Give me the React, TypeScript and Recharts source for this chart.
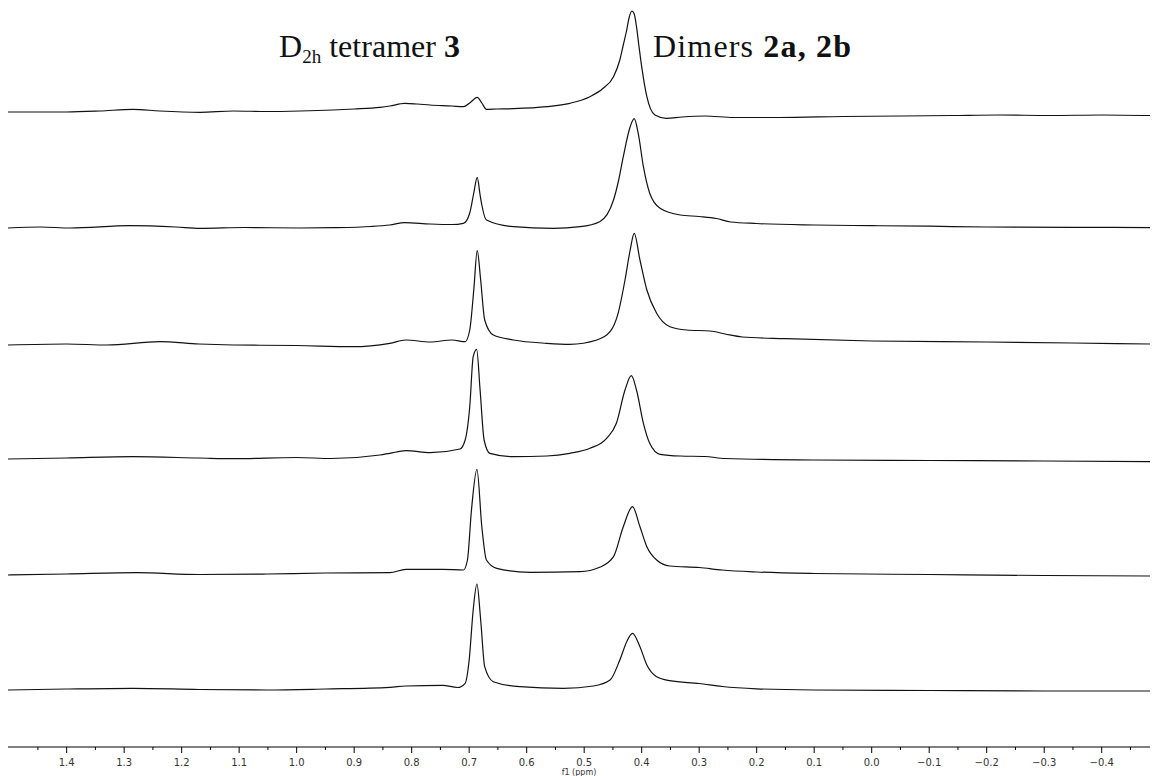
import { LineChart, Line, XAxis, YAxis } from 'recharts';

// ppm, intensity (relative to each trace's own baseline), top spectrum first
const trace1: [number, number][] = [
  [1.502, 0], [1.4, 0], [1.342, 1], [1.285, 2.7], [1.238, 1], [1.168, -0.3], [1.11, 1],
  [1.052, 0.5], [0.994, 1], [0.937, 2], [0.9, 3], [0.855, 4.7], [0.838, 6], [0.812, 8.7],
  [0.79, 8], [0.768, 7], [0.73, 6], [0.71, 5.3], [0.699, 9], [0.686, 14.7], [0.678, 9],
  [0.67, 2.7], [0.652, 3], [0.623, 3.3], [0.565, 5.3], [0.525, 8.7], [0.49, 15.3],
  [0.467, 23.7], [0.449, 35.3], [0.438, 52], [0.432, 67], [0.426, 82], [0.422, 94],
  [0.417, 101], [0.413, 98], [0.409, 85.3], [0.405, 67], [0.4, 45.3], [0.391, 15.3],
  [0.377, -3], [0.357, -6.3], [0.33, -5], [0.29, -4], [0.24, -5.5], [0.16, -5.5],
  [0.05, -4.5], [-0.05, -4], [-0.14, -3.5], [-0.22, -3], [-0.31, -3.5], [-0.4, -3], [-0.484, -3.5],
];

const trace2: [number, number][] = [
  [1.502, 0], [1.445, 1], [1.394, 0], [1.29, 2.3], [1.21, 1], [1.168, -0.3], [1.09, 0.5],
  [0.994, 0], [0.937, 0.3], [0.87, 1.5], [0.838, 3], [0.812, 5.3], [0.768, 4], [0.73, 3.5],
  [0.71, 4.7], [0.699, 15], [0.692, 35], [0.686, 50.7], [0.681, 33], [0.678, 23], [0.67, 8],
  [0.623, 1.3], [0.554, -0.3], [0.507, 1.3], [0.473, 6.3], [0.449, 28], [0.44, 48],
  [0.432, 71.3], [0.42, 101.3], [0.413, 109.3], [0.406, 94.7], [0.397, 61.3], [0.386, 34.7],
  [0.368, 19.7], [0.333, 13], [0.3, 11.5], [0.27, 9.5], [0.245, 6], [0.2, 4.5], [0.1, 3],
  [0.0, 2.3], [-0.1, 1.8], [-0.2, 1], [-0.35, 0.7], [-0.484, 0.4],
];

const trace3: [number, number][] = [
  [1.502, 0], [1.4, 1], [1.33, 0], [1.238, 3.3], [1.17, 1], [1.11, 0], [1.0, -0.5],
  [0.902, -1.7], [0.838, 1.7], [0.81, 5], [0.768, 3], [0.73, 5], [0.707, 3.3],
  [0.699, 15], [0.692, 55], [0.686, 94.3], [0.68, 65], [0.673, 25], [0.658, 10], [0.623, 5],
  [0.565, 1.7], [0.525, 0.7], [0.478, 5], [0.455, 13.3], [0.441, 31.7], [0.429, 65],
  [0.42, 95], [0.413, 111.7], [0.403, 85], [0.391, 55], [0.374, 31.7], [0.351, 18.3],
  [0.322, 15], [0.281, 14], [0.255, 11], [0.225, 8], [0.15, 6.3], [0.0, 4], [-0.2, 3],
  [-0.35, 2], [-0.484, 1],
];

const trace4: [number, number][] = [
  [1.502, 0], [1.4, 1], [1.285, 2.3], [1.17, 1], [1.11, 0.3], [1.0, 1.5], [0.94, 0.5],
  [0.855, 4], [0.838, 5.7], [0.81, 8.3], [0.768, 6.3], [0.716, 10], [0.707, 19],
  [0.699, 52.3], [0.693, 102.3], [0.687, 109.7], [0.681, 69], [0.674, 19], [0.664, 5.7],
  [0.623, 2.3], [0.565, 3], [0.525, 5.7], [0.49, 10.7], [0.461, 20.7], [0.444, 35.7],
  [0.429, 69], [0.418, 83.3], [0.409, 69], [0.397, 35.7], [0.386, 15.7], [0.368, 4.7],
  [0.333, 3], [0.29, 2.5], [0.255, 0.5], [0.1, -1], [-0.1, -1.5], [-0.3, -2], [-0.484, -2.7],
];

const trace5: [number, number][] = [
  [1.502, 0], [1.4, 1], [1.278, 2.3], [1.17, 0.5], [1.052, 1], [0.95, 2], [0.838, 2.3],
  [0.81, 5.7], [0.746, 5.7], [0.71, 5], [0.703, 15], [0.696, 65], [0.6865, 105.7],
  [0.678, 48.3], [0.67, 15], [0.652, 6.7], [0.594, 2.7], [0.507, 3.3], [0.473, 7.7],
  [0.449, 18.3], [0.432, 48.3], [0.416, 68.3], [0.403, 48.3], [0.391, 28.3], [0.374, 15],
  [0.351, 9], [0.3, 7.5], [0.26, 5], [0.2, 3], [0.1, 1.5], [-0.1, 0.5], [-0.3, -0.5], [-0.484, -1],
];

const trace6: [number, number][] = [
  [1.502, 0], [1.4, 1], [1.285, 1.7], [1.17, 0.5], [1.052, 0], [0.95, 1], [0.838, 2.7],
  [0.81, 4], [0.746, 4.7], [0.72, 2.5], [0.707, 6.7], [0.7, 30], [0.693, 80], [0.6865, 106],
  [0.68, 70], [0.673, 23.3], [0.658, 8.3], [0.612, 3.3], [0.536, 1.7], [0.484, 4],
  [0.455, 10], [0.438, 30], [0.426, 48.3], [0.416, 56.7], [0.403, 43.3], [0.391, 25],
  [0.374, 13.3], [0.351, 9.3], [0.3, 6.5], [0.26, 3.5], [0.2, 1.2], [0.1, 0], [-0.1, -0.5],
  [-0.3, -1], [-0.484, -1],
];

const traces = [trace1, trace2, trace3, trace4, trace5, trace6];

const majorTicks = [1.4, 1.3, 1.2, 1.1, 1.0, 0.9, 0.8, 0.7, 0.6, 0.5, 0.4, 0.3, 0.2, 0.1, 0.0, -0.1, -0.2, -0.3, -0.4];
const minorTicks = [1.45, 1.35, 1.25, 1.15, 1.05, 0.95, 0.85, 0.75, 0.65, 0.55, 0.45, 0.35, 0.25, 0.15, 0.05, -0.05, -0.15, -0.25, -0.35, -0.45];

// layout
const W = 1154;
const H = 776;
const AXIS_Y = 747;
const baselines = [112, 228, 345, 459, 575, 690];

function PpmTick(props: any) {
  const { x, payload } = props;
  const v: number = payload.value;
  const major = majorTicks.some((t) => Math.abs(t - v) < 1e-6);
  let label = Math.abs(v) < 1e-9 ? '0.0' : v.toFixed(1);
  if (v < 0) label = '\u2212' + label.slice(1);
  return (
    <g>
      <line x1={x} x2={x} y1={AXIS_Y} y2={AXIS_Y + (major ? 6 : 3)} stroke="#000" strokeWidth={1} />
      {major && (
        <text x={x} y={AXIS_Y + 19} textAnchor="middle" fontSize={10} fill="#333" fontFamily="DejaVu Sans">
          {label}
        </text>
      )}
    </g>
  );
}

export default function App() {
  const allTicks = [...majorTicks, ...minorTicks].sort((a, b) => b - a);
  return (
    <div style={{ position: 'absolute', left: 0, top: 0, width: W, height: H, background: '#fff' }}>
      <LineChart width={W} height={H} margin={{ top: 0, right: 4, left: 8, bottom: 0 }}>
        <XAxis
          type="number"
          dataKey="ppm"
          reversed
          domain={[-0.484, 1.502]}
          allowDataOverflow
          ticks={allTicks}
          interval={0}
          tick={<PpmTick />}
          tickLine={false}
          axisLine={{ stroke: '#000', strokeWidth: 1 }}
          height={29}
          label={{ value: 'f1 (ppm)', position: 'insideBottom', offset: 1, fontSize: 8, fill: '#333', fontFamily: 'DejaVu Sans' }}
        />
        {baselines.map((b, i) => (
          <YAxis key={i} yAxisId={`t${i}`} hide type="number" domain={[-(AXIS_Y - b), b]} allowDataOverflow />
        ))}
        {traces.map((tr, i) => (
          <Line
            key={i}
            yAxisId={`t${i}`}
            data={tr.map(([ppm, v]) => ({ ppm, v }))}
            dataKey="v"
            type="monotone"
            stroke="#111"
            strokeWidth={1.2}
            dot={false}
            isAnimationActive={false}
          />
        ))}
      </LineChart>
      <svg width={W} height={H} style={{ position: 'absolute', left: 0, top: 0, pointerEvents: 'none' }}>
        <text x={279} y={57} fontFamily="Liberation Serif" fontSize={32} fill="#111" textLength={181} lengthAdjust="spacing">
          D<tspan fontSize={19} dy={6}>2h</tspan>
          <tspan dy={-6}>{' tetramer '}</tspan>
          <tspan fontWeight="bold">3</tspan>
        </text>
        <text x={653} y={57} fontFamily="Liberation Serif" fontSize={32} fill="#111" textLength={198} lengthAdjust="spacing">
          {'Dimers '}
          <tspan fontWeight="bold">2a, 2b</tspan>
        </text>
      </svg>
    </div>
  );
}
